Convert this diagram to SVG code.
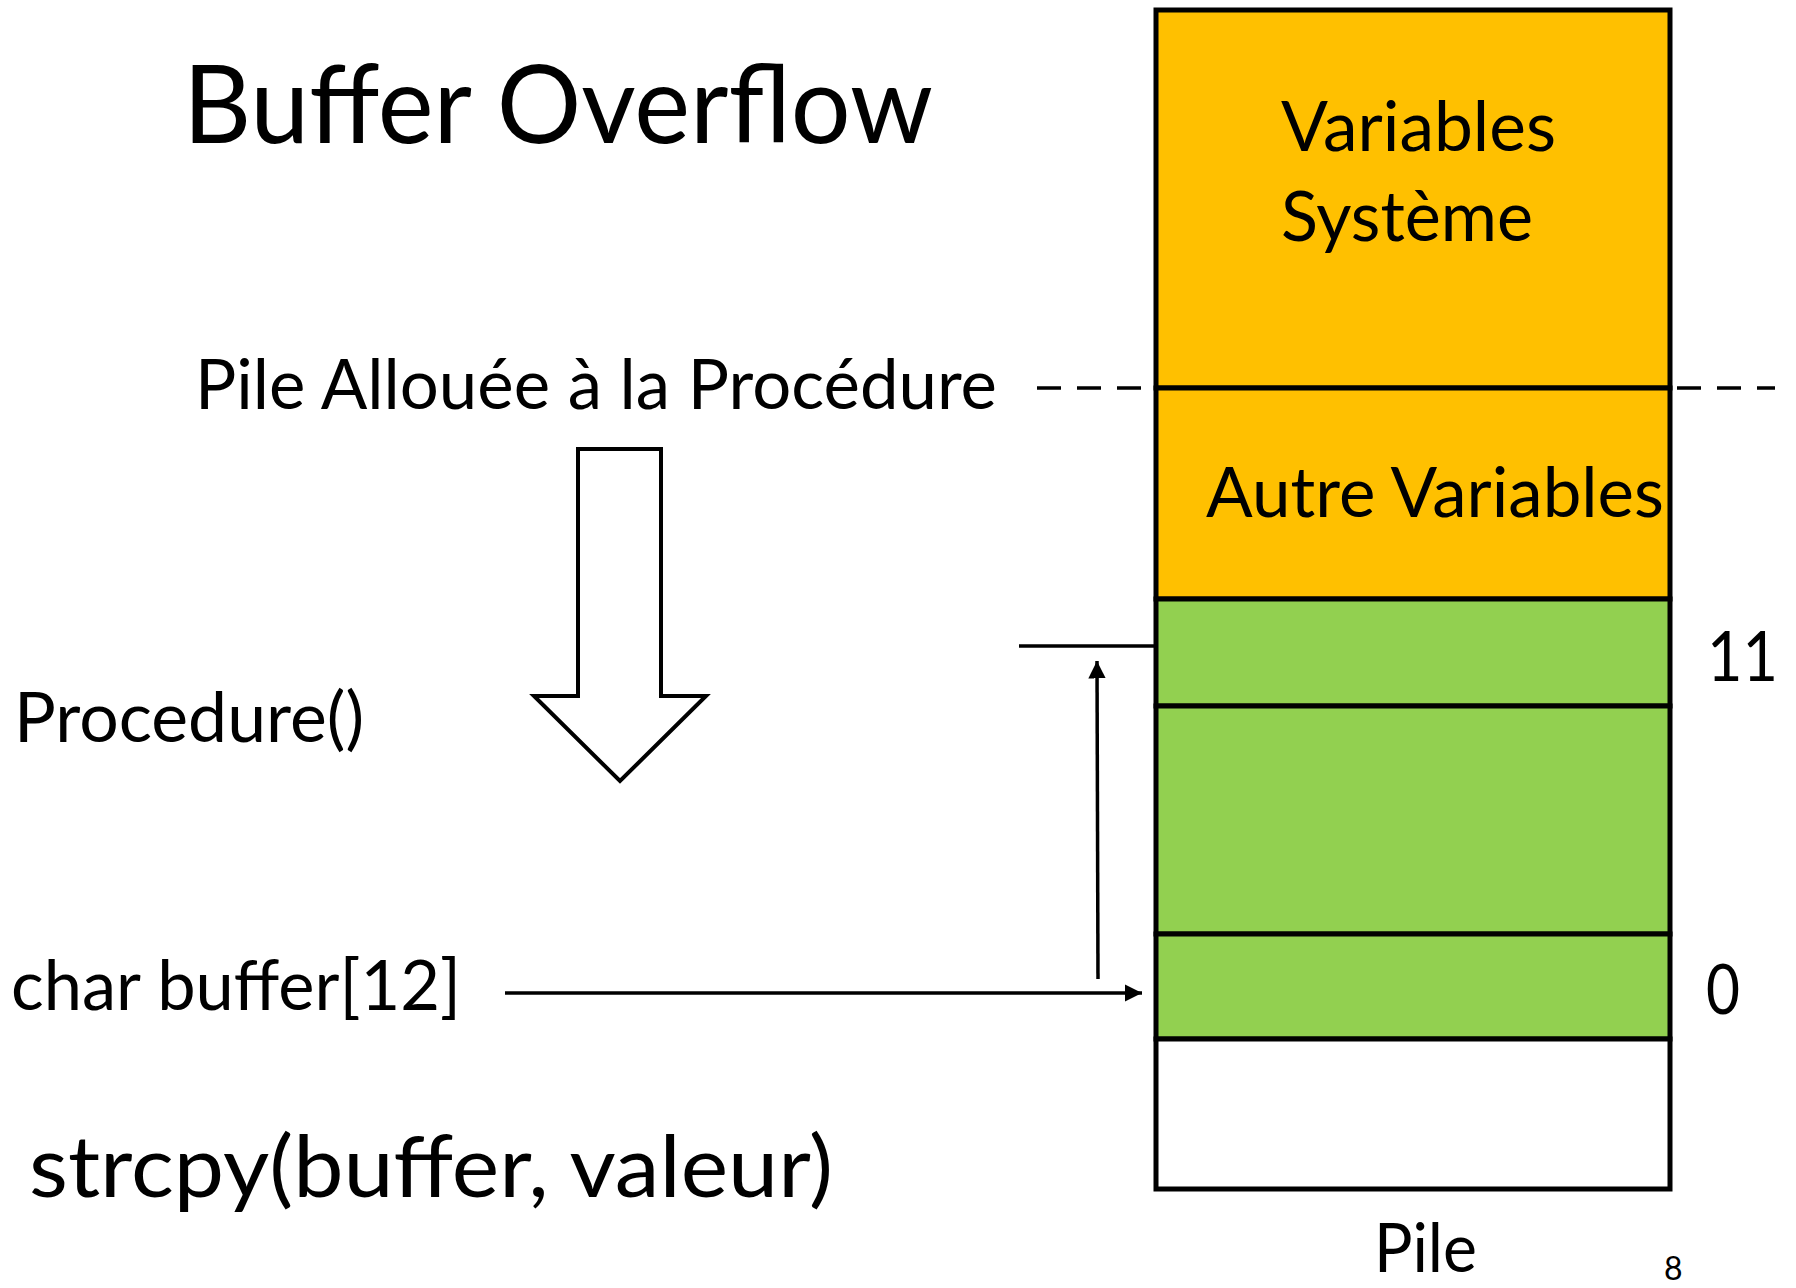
<svg xmlns="http://www.w3.org/2000/svg" width="1796" height="1288" viewBox="0 0 1796 1288">
<style>
.t{font-family:Lato,"Open Sans","Liberation Sans",sans-serif;fill:#000}
.b{font-size:70px}
.ln{stroke:#000;stroke-width:3.5;fill:none}
.box{stroke:#000;stroke-width:5}
</style>
<defs>
<marker id="ah" viewBox="0 0 10 10" refX="10" refY="5" markerWidth="5" markerHeight="5" orient="auto" markerUnits="strokeWidth">
<path d="M0,0 L10,5 L0,10 z" fill="#000"/>
</marker>
</defs>
<rect width="1796" height="1288" fill="#fff"/>
<text class="t" x="183" y="143" font-size="108" textLength="750" lengthAdjust="spacingAndGlyphs">Buffer Overflow</text>
<g id="dashed-line"><line x1="1037" y1="388" x2="1775" y2="388" stroke="#000" stroke-width="3.5" stroke-dasharray="24 16"/></g>
<g id="stack">
<g id="sys-vars"><rect class="box" x="1156" y="10" width="514" height="378" fill="#FFC000"/>
<text class="t b" x="1281" y="151" textLength="275" lengthAdjust="spacingAndGlyphs">Variables</text>
<text class="t b" x="1281" y="241" textLength="252" lengthAdjust="spacingAndGlyphs">Système</text></g>
<g id="other-vars"><rect class="box" x="1156" y="388" width="514" height="211" fill="#FFC000"/>
<text class="t b" x="1206" y="517" textLength="458" lengthAdjust="spacingAndGlyphs">Autre Variables</text></g>
<g id="buf-11"><rect class="box" x="1156" y="599" width="514" height="107" fill="#92D050"/></g>
<g id="buf-mid"><rect class="box" x="1156" y="706" width="514" height="228" fill="#92D050"/></g>
<g id="buf-0"><rect class="box" x="1156" y="934" width="514" height="105" fill="#92D050"/></g>
<g id="free"><rect class="box" x="1156" y="1039" width="514" height="150" fill="#fff"/></g>
</g>
<g id="labels">
<text class="t b" x="195" y="409" textLength="802" lengthAdjust="spacingAndGlyphs">Pile Allouée à la Procédure</text>
<text class="t b" x="14" y="742" textLength="350" lengthAdjust="spacingAndGlyphs">Procedure()</text>
<text class="t b" x="11" y="1010" textLength="450" lengthAdjust="spacingAndGlyphs">char buffer[12]</text>
<text class="t" x="29" y="1197" font-size="86" textLength="804" lengthAdjust="spacingAndGlyphs">strcpy(buffer, valeur)</text>
<text class="t b" x="1707" y="681" textLength="71" lengthAdjust="spacingAndGlyphs">11</text>
<text class="t b" x="1706" y="1014" textLength="34" lengthAdjust="spacingAndGlyphs">0</text>
<text class="t" x="1374" y="1272" font-size="68" textLength="103" lengthAdjust="spacingAndGlyphs">Pile</text>
<text class="t" x="1664" y="1280" font-size="32">8</text>
</g>
<g id="block-arrow"><path d="M578,449 L661,449 L661,696 L706,696 L620,781 L534,696 L578,696 Z" fill="#fff" stroke="#000" stroke-width="4"/></g>
<g id="connectors">
<line class="ln" x1="505" y1="993" x2="1142" y2="993" marker-end="url(#ah)"/>
<line class="ln" x1="1098" y1="979" x2="1097" y2="661" marker-end="url(#ah)"/>
<line class="ln" x1="1019" y1="646" x2="1156" y2="646"/>
</g>
</svg>
